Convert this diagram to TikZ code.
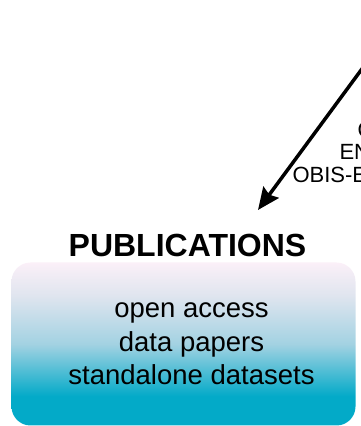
\documentclass[tikz,border=0pt]{standalone}
\usepackage{fontspec}
\setmainfont{Liberation Sans}
\usetikzlibrary{positioning,arrows.meta}
\definecolor{pubtop}{HTML}{FBF0F8}
\definecolor{pubmid}{HTML}{E0E5EF}
\definecolor{publue}{HTML}{A3D2E2}
\definecolor{pubcyan}{HTML}{03AAC8}
\pgfdeclareverticalshading{pubfade}{100bp}{color(0bp)=(pubcyan); color(34bp)=(pubcyan);
  color(50bp)=(publue); color(65bp)=(pubmid); color(75bp)=(pubtop); color(100bp)=(pubtop)}
\tikzset{
  pubbox/.style={shade, shading=pubfade, rounded corners=19pt, inner sep=0pt},
  flow/.style={line width=3.5pt, -{Stealth[length=22pt, width=19pt, inset=3pt]}},
  lbl/.style={anchor=base west, font=\fontsize{22}{26}\selectfont}}

\begin{document}
\begin{tikzpicture}[x=1pt, y=1pt]
\useasboundingbox (0,0) rectangle (361,426);
\clip (0,0) rectangle (361,426);
% arrow coming in from the top right
\coordinate (src) at (398,406);
\coordinate (tip) at (258,216);
\draw[flow] (src) -- (tip);
\node[lbl] (lblA) at (354,288) {O};
\node[lbl] (lblB) at (336,266) {EN};
\node[lbl] (lblC) at (289,243) {OBIS-EN};
% publications box
\node[anchor=base, font=\bfseries\fontsize{32}{36}\selectfont] (pub) at (187.5,169) {PUBLICATIONS};
\node[pubbox, minimum width=344pt, minimum height=163pt] (box) at (183.5,82) {};
\node[align=center, font=\fontsize{27.5}{33.5}\selectfont] (items) at (191.5,82) {open access\\data papers\\standalone datasets};
\end{tikzpicture}
\end{document}
